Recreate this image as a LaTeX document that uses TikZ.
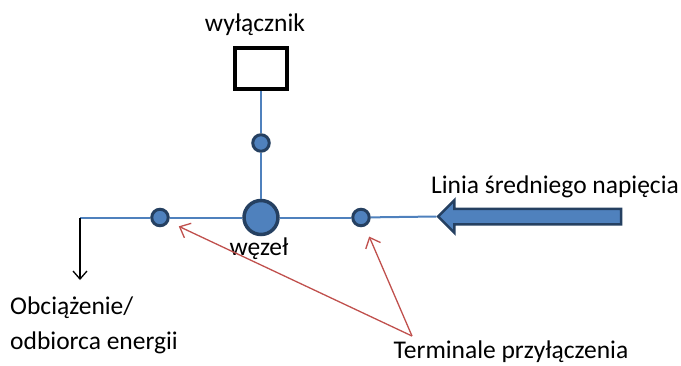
\documentclass[tikz,border=0pt]{standalone}
\usepackage{fontspec}
\setmainfont{Carlito}
\usepackage{tikz,xcolor}
\usetikzlibrary{positioning, shapes.arrows, arrows.meta}

\definecolor{wireblue}{RGB}{79,129,189}
\definecolor{navy}{RGB}{37,64,97}
\definecolor{tipred}{RGB}{192,80,77}

\begin{document}
\begin{tikzpicture}[x=1pt, y=-1pt,
        every node/.style={font=\fontsize{25.5}{30}\selectfont},
        wire/.style={draw=wireblue, line width=2pt},
        term/.style={circle, draw=navy, fill=wireblue, line width=3pt, minimum size=16.5pt, inner sep=0pt},
        hubnode/.style={circle, draw=navy, fill=wireblue, line width=3.5pt, minimum size=34pt, inner sep=0pt},
        switchbox/.style={draw=black, line width=4pt, minimum width=52pt, minimum height=41pt, inner sep=0pt},
        feeder/.style={single arrow, draw=navy, fill=wireblue, line width=2.5pt, rotate=180,
                       minimum height=183pt, minimum width=30pt, inner sep=6.5pt, single arrow head extend=8.5pt},
        hint/.style={draw=tipred, line width=1.3pt, -{Straight Barb[length=9pt, width=16pt]}, shorten >=11pt},
        load/.style={draw=black, line width=1.3pt, -{Straight Barb[length=8pt, width=14pt]}}]
            \useasboundingbox (0,0) rectangle (681,365);

            \node                     (switch label) at (255,25)  {wyłącznik};
            \node[switchbox]          (switch)       at (261,68.5) {};
            \node[term]               (tT)           at (261,143) {};
            \node[hubnode]            (hub)          at (261,217.5) {};
            \node[term]               (tL)           at (160,217.5) {};
            \node[term]               (tR)           at (361,217.5) {};
            \node                     (hub label)    at (259,249) {węzeł};
            \node[feeder]             (feed)         at (533.5,216.5) {};
            \node                     (feed label)   at (555,187) {Linia średniego napięcia};
            \node[anchor=west, inner sep=0pt] (load 1) at (10,308) {Obciążenie/};
            \node[anchor=west, inner sep=0pt] (load 2) at (10,343) {odbiorca energii};
            \node[anchor=base, inner sep=0pt] (term label) at (511,358) {Terminale przyłączenia};

            \coordinate (corner)   at (80,217.5);
            \coordinate (load end) at (80,280);
            \coordinate (fork)     at (412,336);

            \draw[wire] (switch) -- (tT);
            \draw[wire] (tT) -- (hub);
            \draw[wire] (feed.tip) -- (tR);
            \draw[wire] (tR) -- (hub);
            \draw[wire] (hub) -- (tL);
            \draw[wire] (tL) -- (corner);
            \draw[load] (corner) -- (load end);

            \draw[hint] (fork) -- (tL);
            \draw[hint] (fork) -- (tR);
        \end{tikzpicture}
\end{document}
